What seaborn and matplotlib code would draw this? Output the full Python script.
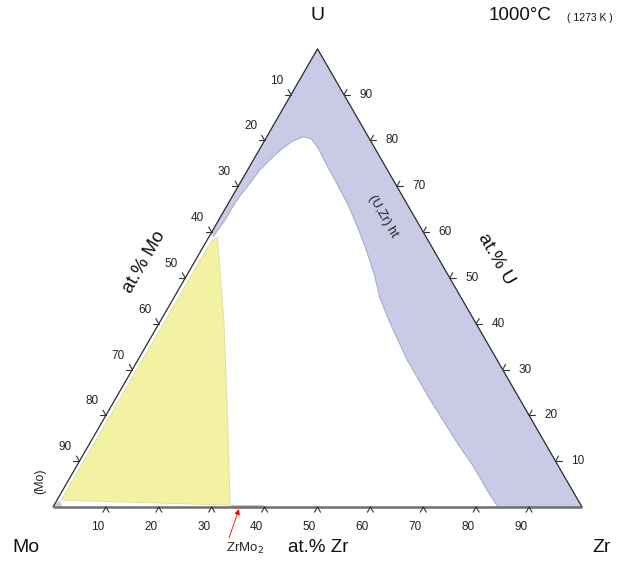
import numpy as np
import pandas as pd
import seaborn as sns
import matplotlib.pyplot as plt

# ---------------- data (ternary fractions: Zr, U ; Mo = 1 - Zr - U) ----------------
ticks = [10, 20, 30, 40, 50, 60, 70, 80, 90]

# inner boundary of the (U,Zr) ht band, from Mo-U edge to the Mo-Zr edge
ht_inner_zr = [0.008, 0.0095, 0.012, 0.012, 0.014, 0.019, 0.023, 0.031, 0.042, 0.054, 0.069,
               0.086, 0.109, 0.138, 0.169, 0.224, 0.272, 0.315, 0.354, 0.390, 0.436, 0.509,
               0.596, 0.694, 0.749, 0.802, 0.841]
ht_inner_u = [0.590, 0.605, 0.627, 0.653, 0.679, 0.707, 0.736, 0.758, 0.782, 0.799, 0.808,
              0.804, 0.784, 0.753, 0.721, 0.664, 0.609, 0.557, 0.507, 0.456, 0.402, 0.321,
              0.234, 0.140, 0.090, 0.037, 0.000]
ht_edge_u = 0.596  # where band meets Mo-U edge

# three-phase (yellow) triangle
yellow_zr = [0.017, 0.119, 0.212, 0.333, 0.008, 0.009]
yellow_u = [0.588, 0.408, 0.234, 0.004, 0.015, 0.580]

# (Mo) solid solution at the Mo corner
mo_zr = [0.0, 0.018, 0.006, 0.0]
mo_u = [0.0, 0.0, 0.014, 0.008]

# thin ZrMo2 strip on the Mo-Zr edge
zrmo2_zr = [0.335, 0.396, 0.396, 0.335]
zrmo2_u = [0.0, 0.0, 0.004, 0.004]

BLUE = '#c8cae6'
YELLOW = '#f3f2a3'
PX = 1 / 529.0  # one pixel in data units


def tern(zr, u):
    zr = np.asarray(zr, float)
    u = np.asarray(u, float)
    return zr + u / 2, u * np.sqrt(3) / 2


sns.set_theme(style="white")
plt.rcParams['font.family'] = ['Liberation Sans', 'DejaVu Sans']

fig = plt.figure(figsize=(6.21, 5.63), dpi=100)
ax = fig.add_axes([0, 0, 1, 1])
ax.set_xlim(-53 * PX, 568 * PX)
ax.set_ylim(-56 * PX, 507 * PX)
ax.axis('off')

# ---------------- regions ----------------
band_zr = [0.0, 1.0] + ht_inner_zr[::-1] + [0.0]
band_u = [1.0, 0.0] + ht_inner_u[::-1] + [ht_edge_u]
bx, by = tern(band_zr, band_u)
ax.fill(bx, by, color=BLUE, lw=0, zorder=1)
ix, iy = tern(ht_inner_zr, ht_inner_u)
sns.lineplot(x=ix, y=iy, sort=False, estimator=None, color='#a4a6c6', lw=0.7, ax=ax, zorder=2)

yx, yy = tern(yellow_zr, yellow_u)
ax.fill(yx, yy, facecolor=YELLOW, edgecolor='#d8d79a', lw=0.5, zorder=1)

mx, my = tern(mo_zr, mo_u)
ax.fill(mx, my, color=BLUE, lw=0, zorder=1)
zx, zy = tern(zrmo2_zr, zrmo2_u)
ax.fill(zx, zy, color='#b8bada', lw=0, zorder=2)

# ---------------- triangle ----------------
tri = pd.DataFrame({'x': tern([0, 0, 1], [0, 1, 0])[0], 'y': tern([0, 0, 1], [0, 1, 0])[1]})
sns.lineplot(data=tri, x='x', y='y', sort=False, estimator=None, color='#2b2b2b', lw=0.9, ax=ax, zorder=3)
ax.plot([0, 1], [0, 0], color='#6e6e6e', lw=1.8, zorder=3, solid_capstyle='butt')

# ---------------- ticks ----------------
L = 6 * PX
s3 = np.sqrt(3) / 2
for v in ticks:
    f = v / 100
    # bottom (Zr)
    x0, y0 = tern(f, 0)
    for dx, dy in [(-0.5, -s3), (0.5, -s3)]:
        ax.plot([x0, x0 + dx * L], [y0, y0 + dy * L], color='#333333', lw=0.8, zorder=3)
    ax.text(x0 - 8 * PX, y0 - 20 * PX, str(v), ha='center', va='center', fontsize=8.5, color='#222222')
    # left (Mo)
    x0, y0 = tern(0, 1 - f)
    for dx, dy in [(-1, 0), (-0.5, s3)]:
        ax.plot([x0, x0 + dx * L], [y0, y0 + dy * L], color='#333333', lw=0.8, zorder=3)
    ax.text(x0 - 14 * PX, y0 + 14 * PX, str(v), ha='center', va='center', fontsize=8.5, color='#222222')
    # right (U)
    x0, y0 = tern(1 - f, f)
    for dx, dy in [(1, 0), (0.5, s3)]:
        ax.plot([x0, x0 + dx * L], [y0, y0 + dy * L], color='#333333', lw=0.8, zorder=3)
    ax.text(x0 + 22 * PX, y0, str(v), ha='center', va='center', fontsize=8.5, color='#222222')


def pix(px, py):
    return (px - 53) * PX, (507 - py) * PX


# ---------------- labels ----------------
ax.text(*pix(318, 16), 'U', ha='center', va='center', fontsize=14, color='#111111')
ax.text(*pix(26, 548), 'Mo', ha='center', va='center', fontsize=14, color='#111111')
ax.text(*pix(602, 548), 'Zr', ha='center', va='center', fontsize=14, color='#111111')
ax.text(*pix(318, 548), 'at.% Zr', ha='center', va='center', fontsize=13.5, color='#111111')
ax.text(*pix(144, 262), 'at.% Mo', ha='center', va='center', fontsize=13.5, rotation=60,
        color='#111111', rotation_mode='anchor')
ax.text(*pix(496, 259), 'at.% U', ha='center', va='center', fontsize=13.5, rotation=-60,
        color='#111111', rotation_mode='anchor')
ax.text(*pix(520, 16), '1000°C', ha='center', va='center', fontsize=13.5, color='#111111')
ax.text(*pix(590, 18), '( 1273 K )', ha='center', va='center', fontsize=7.5, color='#111111')
ax.text(*pix(383, 216), '(U,Zr) ht', ha='center', va='center', fontsize=9, rotation=-60,
        color='#222222', rotation_mode='anchor')
ax.text(*pix(40, 481), '(Mo)', ha='center', va='center', fontsize=9, rotation=90, color='#222222')
ax.text(*pix(245, 548), 'ZrMo$_2$', ha='center', va='center', fontsize=9.5, color='#222222')
ax.annotate('', xy=pix(239, 509), xytext=pix(229, 538),
            arrowprops=dict(arrowstyle='-|>', color='red', lw=0.6, mutation_scale=8,
                            shrinkA=0, shrinkB=0))

fig.savefig('out.png', dpi=100)
